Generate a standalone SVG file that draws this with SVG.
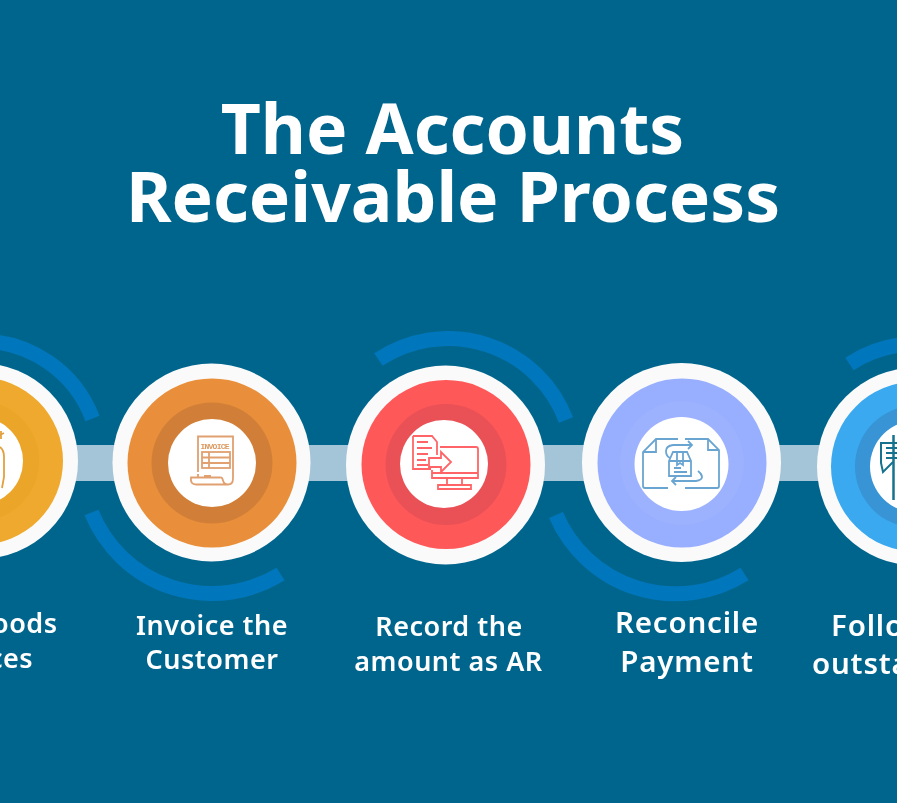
<svg xmlns="http://www.w3.org/2000/svg" width="897" height="803" viewBox="0 0 897 803">
<style>
.t{font-family:"Noto Sans","Open Sans",sans-serif;font-weight:600;fill:#fff}
.h{font-size:69.500px;font-weight:700;text-anchor:middle}
.l{font-size:27px;letter-spacing:.5px;text-anchor:middle}
.l2{font-size:29.500px;letter-spacing:.8px;text-anchor:middle}
.s{text-anchor:start}
.arc{fill:none;stroke:#0277bd;stroke-width:15}
.bar{fill:#a4c4d8}
.o{fill:#fafafa}
.w{fill:#fff}
.ic{fill:none;stroke-width:1.8}
</style>
<defs><filter id="b" x="-5%" y="-5%" width="110%" height="110%"><feGaussianBlur stdDeviation="0.5"/></filter></defs>
<rect width="897" height="803" fill="#00658c"/>
<g filter="url(#b)">
<g id="title"><text class="t h" x="452.500" y="154">The Accounts</text><text class="t h" x="453" y="222">Receivable Process</text></g>
<g id="connectors">
<rect class="bar" x="70" y="445" width="50" height="36"/>
<rect class="bar" x="300" y="445" width="55" height="36"/>
<rect class="bar" x="535" y="445" width="55" height="36"/>
<rect class="bar" x="772" y="445" width="52" height="36"/>
<path class="arc" d="M-20 341A120 120 0 0 1 92.500 418.500"/>
<path class="arc" d="M91.500 512.500A130 130 0 0 0 280.500 574"/>
<path class="arc" d="M378.500 359.500A126 126 0 0 1 566 420"/>
<path class="arc" d="M556 515A130 130 0 0 0 744.500 574"/>
<path class="arc" d="M849.500 364A122 122 0 0 1 916 344"/>
</g>
<g id="node-goods">
<circle class="o" cx="-20" cy="461" r="98"/><circle cx="-21" cy="461" r="84" fill="#eea92d"/><circle cx="-21" cy="461" r="60" fill="#eba62c"/><circle class="w" cx="-21" cy="461" r="44"/>
<g class="ic" stroke="#e3a03f"><path d="M-2 436l6-3M1 431v8M0 447q4 3 4 10v20l-2 11M-2 487V447"/></g>
<text class="t l s" x="-8" y="633">oods</text><text class="t l s" x="-11" y="668">ces</text>
</g>
<g id="node-invoice">
<circle class="o" cx="211.500" cy="462.500" r="99"/><circle cx="212" cy="463" r="84.500" fill="#e98f3a"/><circle cx="212" cy="463" r="60.500" fill="#d17f37"/><circle class="w" cx="212" cy="463" r="44"/>
<g class="ic" stroke="#e0a070"><path d="M198 472v-35.500h35v42q0 6-5 6-4 0-5-4t-3-3h-29q-1 7 5 7h24q4 0 8 0"/><path d="M198 474v4M204 476h7"/><rect x="202" y="452" width="28" height="16"/><path d="M202 457.500h28M202 463h28M209 452v16"/></g>
<text x="200.500" y="449" font-family="Liberation Mono,monospace" font-size="8" font-weight="700" fill="#dc9a60" textLength="29">INVOICE</text>
<text class="t l" x="212" y="635">Invoice the</text><text class="t l" x="212" y="669">Customer</text>
</g>
<g id="node-record">
<circle class="o" cx="445.500" cy="465" r="99.500"/><circle cx="446" cy="464.500" r="84.500" fill="#ff5859"/><circle cx="446" cy="464.500" r="60.500" fill="#e95156"/><circle class="w" cx="444" cy="464" r="44"/>
<g class="ic" stroke="#ff6567" stroke-width="2"><path d="M413 436h19l5 6v13M413 436v33h18M417 442h11M417 448h15M417 454h11M417 460h9M417 465h11"/><path d="M440 447h36q2 0 2 2v29h-46v-8M432 473h46"/><path d="M447 478v7M462 478v7M438 485h33v4h-33z"/><path d="M429 458h12v-6l10 10-10 10v-5h-12z" fill="#fff"/></g>
<text class="t l" x="449" y="636">Record the</text><text class="t l" x="448.500" y="671">amount as AR</text>
</g>
<g id="node-reconcile">
<circle class="o" cx="681.500" cy="462.500" r="99.500"/><circle cx="682" cy="463" r="84.500" fill="#98aefe"/><circle cx="682" cy="463" r="62" fill="#9db2fe"/><circle class="w" cx="681.500" cy="464" r="47"/>
<g class="ic" stroke="#6aa5d2"><path d="M678 439h-22l-13 13v34q0 2 2 2h23"/><path d="M643 452h13v-13"/><path d="M685 439h23l11 11v36q0 2-2 2h-32"/><path d="M708 439v11h11"/><path d="M692 445h-19q-7 1-7 6t4 7"/><path d="M688 441l4 4-4 4"/><path d="M672 481h24q6-1 6-4t-4-6"/><path d="M676 477l-4 4 4 4"/><path d="M669 461l4-9h14l4 9v15h-22z"/><path d="M669 461h22M677 452v13l3-2 3 2v-13M674 468h7M674 472h13"/></g>
<text class="t l2" x="687" y="633">Reconcile</text><text class="t l2" x="687" y="672">Payment</text>
</g>
<g id="node-follow">
<circle class="o" cx="916" cy="466.500" r="99"/><circle cx="916" cy="466.500" r="85" fill="#3aa9ef"/><circle cx="916" cy="466.500" r="61" fill="#3794d4"/><circle class="w" cx="916" cy="466.500" r="46"/>
<g fill="none" stroke="#17728f" stroke-width="2"><path d="M897 443h-16v20l2 9 10-10M886 448h11M886 453h11M886 458h11"/><path d="M893.500 435v65" stroke-width="2.500"/></g>
<text class="t l2 s" x="831" y="636">Follo</text><text class="t l2 s" x="812" y="674">outsta</text>
</g>
</g>
</svg>
